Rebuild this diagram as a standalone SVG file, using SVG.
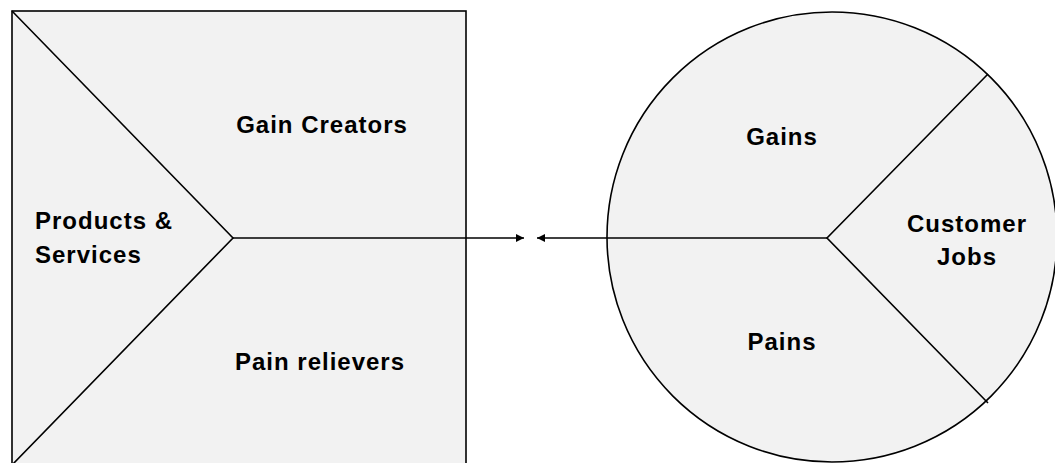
<svg xmlns="http://www.w3.org/2000/svg" width="1055" height="463" viewBox="0 0 1055 463">
<style>
.shape{fill:#f2f2f2;stroke:#000;stroke-width:1.6}
.ln{fill:none;stroke:#000;stroke-width:1.6}
.lbl{font-family:"Liberation Sans",Arial,sans-serif;font-weight:bold;font-size:24px;letter-spacing:1px;fill:#000}
.c{text-anchor:middle}
</style>
<defs>
<marker id="ah" viewBox="0 0 10 10" refX="10" refY="5" markerWidth="8" markerHeight="8" markerUnits="userSpaceOnUse" orient="auto">
<path d="M0,0 L10,5 L0,10 z" fill="#000"/>
</marker>
</defs>
<rect width="1055" height="463" fill="#fff"/>
<g id="value-map">
<rect class="shape" x="12" y="11" width="454" height="454"/>
<path class="ln" d="M12,11 L233,238 L12,465"/>
<text class="lbl c" x="322" y="133">Gain Creators</text>
<text class="lbl c" x="320" y="370">Pain relievers</text>
<text class="lbl" x="35" y="229">Products &amp;</text>
<text class="lbl" x="35" y="263">Services</text>
</g>
<g id="customer-profile">
<circle class="shape" cx="832" cy="237" r="225"/>
<path class="ln" d="M988,74 L827,238 L988,403"/>
<text class="lbl c" x="782" y="145">Gains</text>
<text class="lbl c" x="782" y="350">Pains</text>
<text class="lbl c" x="967" y="232">Customer</text>
<text class="lbl c" x="967" y="265">Jobs</text>
</g>
<g id="connectors">
<line class="ln" x1="233" y1="238" x2="524" y2="238" marker-end="url(#ah)"/>
<line class="ln" x1="827" y1="238" x2="537" y2="238" marker-end="url(#ah)"/>
</g>
</svg>
